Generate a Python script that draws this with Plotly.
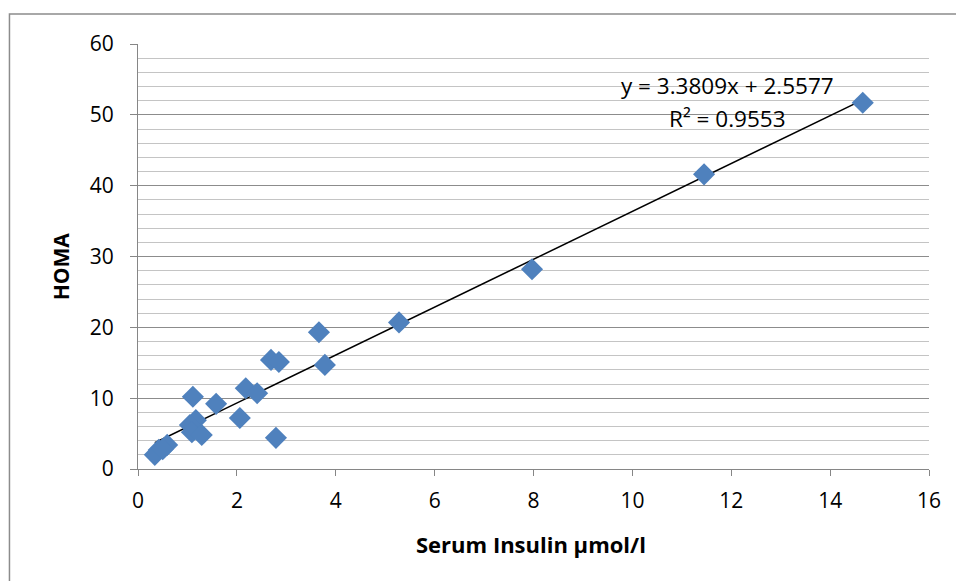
import plotly.graph_objects as go

insulin = [14.66, 11.45, 7.97, 5.28, 3.66, 3.78, 2.69, 2.85, 2.18, 2.41, 2.06, 2.79,
           1.11, 1.58, 1.17, 1.05, 1.09, 1.29, 0.42, 0.34, 0.59, 0.50]
homa = [51.7, 41.6, 28.2, 20.7, 19.3, 14.7, 15.4, 15.1, 11.4, 10.7, 7.2, 4.4,
        10.2, 9.2, 6.9, 6.2, 5.2, 4.8, 2.7, 2.0, 3.4, 2.8]

slope = 3.3809
intercept = 2.5577
eq_text = "y = 3.3809x + 2.5577"
r2_text = "R² = 0.9553"
x_title = "Serum Insulin µmol/l"
y_title = "HOMA"

x_ticks = [0, 2, 4, 6, 8, 10, 12, 14, 16]
y_ticks = [0, 10, 20, 30, 40, 50, 60]

FONT = "Open Sans"
BLUE = "#4F81BD"

fig = go.Figure()

xmin, xmax = min(insulin), max(insulin)
fig.add_trace(go.Scatter(
    x=[xmin, xmax], y=[slope * xmin + intercept, slope * xmax + intercept],
    mode="lines", line=dict(color="black", width=1.5), hoverinfo="skip", showlegend=False))

fig.add_trace(go.Scatter(
    x=insulin, y=homa, mode="markers",
    marker=dict(symbol="diamond", size=17, color=BLUE, line=dict(width=0)),
    showlegend=False))

fig.update_layout(
    width=956, height=581,
    margin=dict(l=138, r=27, t=44, b=112),
    paper_bgcolor="white", plot_bgcolor="white",
    font=dict(family=FONT, size=21, color="black"),
    xaxis=dict(range=[0, 16], tickvals=x_ticks, showgrid=False, zeroline=False,
               showline=True, linecolor="#868686", linewidth=1.3,
               ticks="outside", ticklen=6, tickcolor="#868686",
               ticklabelstandoff=7,
               tickfont=dict(size=21, family=FONT)),
    yaxis=dict(range=[0, 60], tickvals=y_ticks, showgrid=True, gridcolor="#8c8c8c", gridwidth=1.3,
               zeroline=False, showline=True, linecolor="#868686", linewidth=1.3,
               ticks="outside", ticklen=7, tickcolor="#868686",
               ticklabelstandoff=12,
               tickfont=dict(size=21, family=FONT),
               minor=dict(dtick=2, showgrid=True, gridcolor="#c4c4c4", gridwidth=1.3)),
    annotations=[
        dict(x=11.93, y=54.14, xref="x", yref="y", text=eq_text, showarrow=False,
             xanchor="center", yanchor="middle", font=dict(size=22.5, family=FONT)),
        dict(x=11.93, y=49.55, xref="x", yref="y", text=r2_text, showarrow=False,
             xanchor="center", yanchor="middle", font=dict(size=22.5, family=FONT)),
        dict(x=0.497, y=-0.176, xref="paper", yref="paper", text="<b>" + x_title + "</b>",
             xanchor="center", yanchor="middle",
             showarrow=False, font=dict(size=22, family=FONT)),
        dict(x=-0.098, y=0.478, xref="paper", yref="paper", text="<b>" + y_title + "</b>",
             xanchor="center", yanchor="middle",
             textangle=-90, showarrow=False, font=dict(size=21, family=FONT)),
    ],
    shapes=[dict(type="rect", xref="paper", yref="paper",
                 x0=-0.1625, x1=1.06, y0=-0.3, y1=1.0706,
                 line=dict(color="#8c8c8c", width=1.5), layer="below")],
)

fig.write_html("out.html")
